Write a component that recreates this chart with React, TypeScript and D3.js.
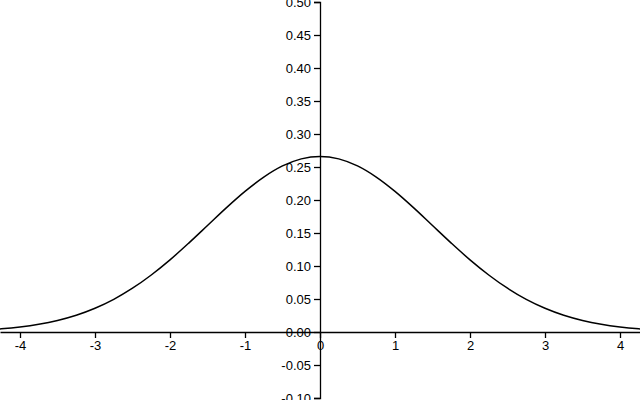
import React, { useRef, useEffect } from "react";
import * as d3 from "d3";

// points
const xValues = [
  -4.5, -4.25, -4, -3.75, -3.5, -3.25, -3, -2.75, -2.5, -2.25, -2, -1.75, -1.5, -1.25, -1, -0.75, -0.5, -0.25,
  0, 0.25, 0.5, 0.75, 1, 1.25, 1.5, 1.75, 2, 2.25, 2.5, 2.75, 3, 3.25, 3.5, 3.75, 4, 4.25, 4.5,
];
const density = [
  0.003, 0.0048, 0.0076, 0.0117, 0.0175, 0.0254, 0.036, 0.0495, 0.0663, 0.0864, 0.1093, 0.1347, 0.1613, 0.188,
  0.213, 0.2347, 0.2516, 0.2623, 0.266, 0.2623, 0.2516, 0.2347, 0.213, 0.188, 0.1613, 0.1347, 0.1093, 0.0864,
  0.0663, 0.0495, 0.036, 0.0254, 0.0175, 0.0117, 0.0076, 0.0048, 0.003,
];
const xTicks = [-4, -3, -2, -1, 0, 1, 2, 3, 4];
const yTicks = [-0.1, -0.05, 0, 0.05, 0.1, 0.15, 0.2, 0.25, 0.3, 0.35, 0.4, 0.45, 0.5];

const width = 640;
const height = 400;

const BellCurve = () => {
  const svgRef = useRef<SVGSVGElement>(null);

  useEffect(() => {
    const svg = d3.select(svgRef.current);
    svg.selectAll("*").remove();

    const half = 320 / 75;
    const xScale = d3.scaleLinear().domain([-half, half]).range([0, width]);
    const yScale = d3.scaleLinear().domain([-0.1, 0.5]).range([398, 2]);

    const line = d3
      .line<number>()
      .x((d, i) => xScale(xValues[i]))
      .y((d) => yScale(d))
      .curve(d3.curveMonotoneX);

    svg
      .append("path")
      .datum(density)
      .attr("fill", "none")
      .attr("stroke", "#000")
      .attr("stroke-width", 1.5)
      .attr("d", line);

    // x axis through y = 0
    const gx = svg
      .append("g")
      .attr("transform", `translate(0,${yScale(0)})`)
      .call(d3.axisBottom(xScale).tickValues(xTicks).tickFormat((d) => String(d)).tickSizeOuter(0));

    // y axis through x = 0
    const gy = svg
      .append("g")
      .attr("transform", `translate(${xScale(0)},0)`)
      .call(d3.axisLeft(yScale).tickValues(yTicks).tickFormat((d) => (+d).toFixed(2)));

    [gx, gy].forEach((g) => {
      g.attr("font-family", "'Liberation Sans', Arial, sans-serif").attr("font-size", 13);
      g.selectAll("text").attr("fill", "#000");
      g.selectAll("line, path").attr("stroke", "#000").attr("stroke-width", 1.3);
    });
  }, []);

  return (
    <svg
      ref={svgRef}
      width={width}
      height={height}
      style={{ position: "absolute", left: 0, top: 0, background: "#fff" }}
    ></svg>
  );
};

export default function App() {
  return <BellCurve />;
}
